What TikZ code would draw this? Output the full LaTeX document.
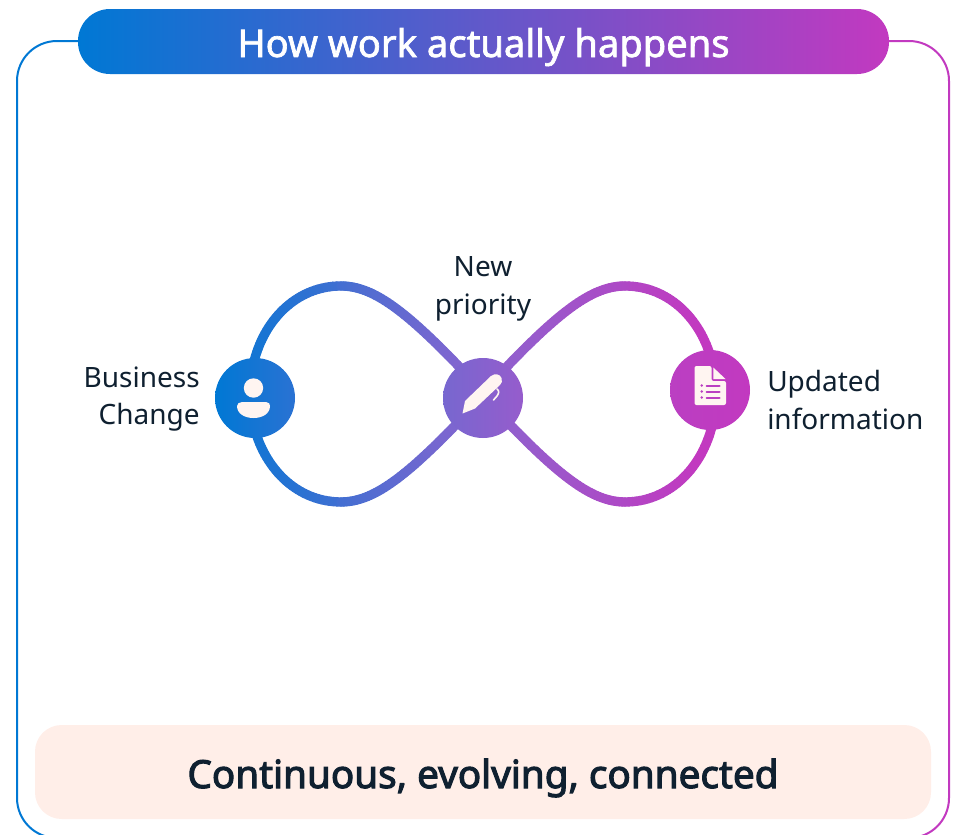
\documentclass[tikz,border=0pt]{standalone}
\usepackage{fontspec}
\setmainfont{Noto Sans}
\newfontfamily\titlefont[FakeBold=1.8]{Noto Sans}
\newfontfamily\mottofont[FakeBold=2.8]{Noto Sans}
\definecolor{gstart}{HTML}{0078D4}
\definecolor{gmid}{HTML}{8C64CF}
\definecolor{gend}{HTML}{C239C0}
\definecolor{inkdark}{HTML}{0F2030}
\definecolor{cream}{HTML}{FFF5F1}
\definecolor{peach}{HTML}{FFEEE8}
\newcommand\setgrad[2]{%
  \pgfmathsetmacro\gp{#1}%
  \pgfmathparse{\gp<483 ? 1 : 0}%
  \ifnum\pgfmathresult=1
    \pgfmathsetmacro\gq{max(0,(\gp-215)/(483-215)*100)}%
    \colorlet{#2}{gmid!\gq!gstart}%
  \else
    \pgfmathsetmacro\gq{min(100,(\gp-483)/(700-483)*100)}%
    \colorlet{#2}{gend!\gq!gmid}%
  \fi}
\newcommand\gcurve[8]{%
  \foreach \i in {0,...,39}{%
    \pgfmathsetmacro\ta{\i/40}%
    \pgfmathsetmacro\tb{(\i+1)/40}%
    \pgfmathsetmacro\xa{(1-\ta)^3*#1+3*(1-\ta)^2*\ta*#3+3*(1-\ta)*\ta^2*#5+\ta^3*#7}%
    \pgfmathsetmacro\ya{(1-\ta)^3*#2+3*(1-\ta)^2*\ta*#4+3*(1-\ta)*\ta^2*#6+\ta^3*#8}%
    \pgfmathsetmacro\xb{(1-\tb)^3*#1+3*(1-\tb)^2*\tb*#3+3*(1-\tb)*\tb^2*#5+\tb^3*#7}%
    \pgfmathsetmacro\yb{(1-\tb)^3*#2+3*(1-\tb)^2*\tb*#4+3*(1-\tb)*\tb^2*#6+\tb^3*#8}%
    \pgfmathsetmacro\xm{(\xa+\xb)/2}%
    \setgrad{\xm}{segcol}%
    \draw[loopline,draw=segcol] (\xa,\ya) -- (\xb,\yb);
  }}
\tikzset{
  loopline/.style={line width=7pt,line cap=round},
  framel/.style={line width=1.5pt,rounded corners=30pt},
  hub/.style={circle,minimum size=60pt,inner sep=0pt},
  lbl/.style={font=\fontsize{21}{28}\selectfont,text=inkdark,inner sep=0pt},
  iconfill/.style={fill=cream,draw=none}
}
\begin{document}
\begin{tikzpicture}[x=0.75pt,y=-0.75pt]
\useasboundingbox (0,0) rectangle (957,835);
\fill[white] (0,0) rectangle (957,835);
% frame
\draw[framel,draw=gstart] (100,41) -- (17,41) -- (17,838) -- (200,838);
\draw[framel,draw=gend] (860,41) -- (949,41) -- (949,838) -- (760,838);
% title pill
\shade[left color=gstart,middle color=gmid,right color=gend,rounded corners=24pt] (78,9) rectangle (889,74);
\node[font=\titlefont\fontsize{28.6}{32}\selectfont,text=white,inner sep=0pt,anchor=base] (title) at (483.5,57) {How work actually happens};
% bottom bar
\fill[peach,rounded corners=20pt] (35,725) rectangle (931,819);
\node[font=\mottofont\fontsize{29}{32}\selectfont,text=inkdark,inner sep=0pt,anchor=base] (motto) at (483,788) {Continuous, evolving, connected};
% loops
\gcurve{341}{286}{288}{286}{250}{335}{250}{394}
\gcurve{341}{286}{375}{286}{410}{313}{483}{392}
\gcurve{341}{502}{288}{502}{250}{453}{250}{394}
\gcurve{341}{502}{375}{502}{410}{475}{483}{396}
\gcurve{625}{286}{678}{286}{716}{335}{716}{394}
\gcurve{625}{286}{591}{286}{556}{313}{483}{392}
\gcurve{625}{502}{678}{502}{716}{453}{716}{394}
\gcurve{625}{502}{591}{502}{556}{475}{483}{396}
% hubs
\setgrad{215}{ca}\setgrad{295}{cb}
\node[hub,left color=ca,right color=cb] (change) at (255,398) {};
\setgrad{443}{cc}\setgrad{523}{cd}
\node[hub,left color=cc,right color=cd] (priority) at (483,398) {};
\setgrad{670}{ce}\setgrad{750}{cf}
\node[hub,left color=ce,right color=cf] (update) at (710,390) {};
% person icon
\fill[iconfill] (253.5,388) circle (9.7);
\fill[iconfill] (242,402) -- (266,402) .. controls (269,402) and (270,404) .. (270,406) .. controls (270,414) and (262,418) .. (253.5,418) .. controls (245,418) and (237,414) .. (237,406) .. controls (237,404) and (239,402) .. (242,402) -- cycle;
% pen icon
\fill[iconfill] (462.5,413.5) -- (465,401) -- (491,376) .. controls (495,373) and (500,374) .. (501.5,378) .. controls (502.5,381) and (502,383) .. (500,385) -- (475,408.5) -- cycle;
\draw[cream,line width=1.2pt,line cap=round] (497,389) .. controls (499.5,391) and (499,393) .. (497,396) -- (493.5,400);
% document icon
\fill[iconfill,rounded corners=1.5pt] (694.5,366) -- (711.5,366) -- (711.5,381) -- (726,381) -- (726,405) -- (694.5,405) -- cycle;
\fill[iconfill] (713.3,367.5) -- (725.5,379) -- (713.3,379) -- cycle;
\foreach \yy in {385.5,391.5,397.5}{
  \fill[ce] (701.7,\yy) circle (1.3);
  \draw[ce,line width=1.5pt,line cap=round] (706.5,\yy) -- (719.5,\yy);
}
% labels
\node[lbl,align=right,anchor=east] (lbusiness) at (200,399) {Business\\Change};
\node[lbl,align=center,anchor=center] (lnew) at (483,289) {New\\priority};
\node[lbl,align=left,anchor=west] (lupdated) at (767,400) {Updated\\information};
\end{tikzpicture}
\end{document}
